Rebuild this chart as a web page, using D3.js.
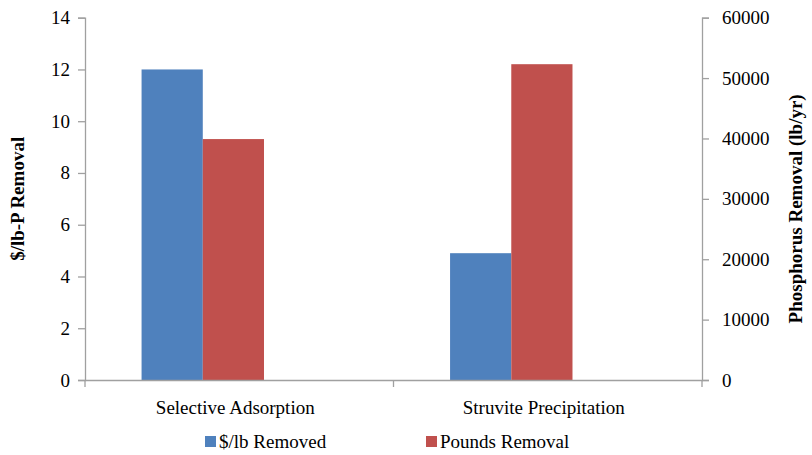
<!DOCTYPE html>
<html><head><meta charset="utf-8">
<script src="https://cdn.jsdelivr.net/npm/d3@7"></script>
</head><body style="margin:0">
<svg id="c" width="812" height="455"></svg>
<script>
const categories = ["Selective Adsorption", "Struvite Precipitation"];
const seriesNames = ["$/lb Removed", "Pounds Removal"];
const costPerLb = [12, 4.9];
const poundsRemoval = [39900, 52300];
const leftTicks = [0, 2, 4, 6, 8, 10, 12, 14];
const rightTicks = [0, 10000, 20000, 30000, 40000, 50000, 60000];
const colors = ["#4F81BD", "#C0504D"];

const FONT = "Liberation Serif";
const svg = d3.select("#c");
const L = 85, R = 702, T = 17.7, B = 380;
const x = d3.scaleBand().domain(categories).range([L, R]).padding(0);
const x1 = d3.scaleBand().domain(seriesNames).range([0, x.bandwidth()]).paddingInner(0).paddingOuter(1.52).align(0.304);
const yL = d3.scaleLinear().domain([0, 14]).range([B, T]);
const yR = d3.scaleLinear().domain([0, 60000]).range([B, T]);

// text helper: renders at 24px and scales down
function label(parent, px, py, str, size, anchor, rot, bold) {
  const g = parent.append("g")
    .attr("transform", `translate(${px},${py})${rot ? ` rotate(${rot})` : ""} scale(${size / 24})`);
  g.append("text").attr("x", 0).attr("y", 0)
    .attr("font-family", FONT).attr("font-size", 24)
    .attr("font-weight", bold ? "bold" : "normal")
    .attr("text-anchor", anchor).attr("fill", "#000").text(str);
  return g;
}

// bars
const data = categories.map((c, i) => [
  {cat: c, s: seriesNames[0], v: costPerLb[i], y: yL},
  {cat: c, s: seriesNames[1], v: poundsRemoval[i], y: yR}
]).flat();
svg.append("g").selectAll("rect").data(data).join("rect")
  .attr("x", d => x(d.cat) + x1(d.s))
  .attr("width", x1.bandwidth())
  .attr("y", d => d.y(d.v))
  .attr("height", d => B - d.y(d.v))
  .attr("fill", d => colors[seriesNames.indexOf(d.s)]);

const axisColor = "#A0A0A0";
const gl = svg.append("g").attr("transform", `translate(${L},0)`)
  .call(d3.axisLeft(yL).tickValues(leftTicks).tickSize(7).tickSizeOuter(7).tickFormat(""));
const gr = svg.append("g").attr("transform", `translate(${R},0)`)
  .call(d3.axisRight(yR).tickValues(rightTicks).tickSize(7).tickSizeOuter(7).tickFormat(""));
const gb = svg.append("g").attr("transform", `translate(0,${B})`)
  .call(d3.axisBottom(x).tickValues([]).tickSizeOuter(0));
[gl, gr, gb].forEach(g => {
  g.select(".domain").attr("stroke", axisColor).attr("stroke-width", 1.3);
  g.selectAll(".tick line").attr("stroke", axisColor).attr("stroke-width", 1.3);
  g.selectAll(".tick text").remove();
});
// tick labels
const tl = svg.append("g");
leftTicks.forEach(v => label(tl, L - 15, yL(v) + 6.5, d3.format("d")(v), 19, "end"));
rightTicks.forEach(v => label(tl, R + 20, yR(v) + 6.5, d3.format("d")(v), 19, "start"));

// category boundary ticks
svg.append("g").selectAll("line").data([L, x(categories[1]), R]).join("line")
  .attr("x1", d => d).attr("x2", d => d).attr("y1", B).attr("y2", B + 7)
  .attr("stroke", axisColor).attr("stroke-width", 1.3);
// category labels
const cl = svg.append("g");
categories.forEach(c => label(cl, x(c) + x.bandwidth() / 2 - 4, 414, c, 19, "middle"));

// axis titles
label(svg, 24, (T + B) / 2, "$/lb-P Removal", 19, "middle", -90, true);
label(svg, 802, (T + B) / 2 + 10, "Phosphorus Removal (lb/yr)", 19, "middle", -90, true);

// legend
const legX = [205, 426];
const lg = svg.append("g");
seriesNames.forEach((s, i) => {
  lg.append("rect").attr("x", legX[i]).attr("y", 436).attr("width", 11).attr("height", 11).attr("fill", colors[i]);
  label(lg, legX[i] + 14, 448, s, 19, "start");
});
</script></body></html>
